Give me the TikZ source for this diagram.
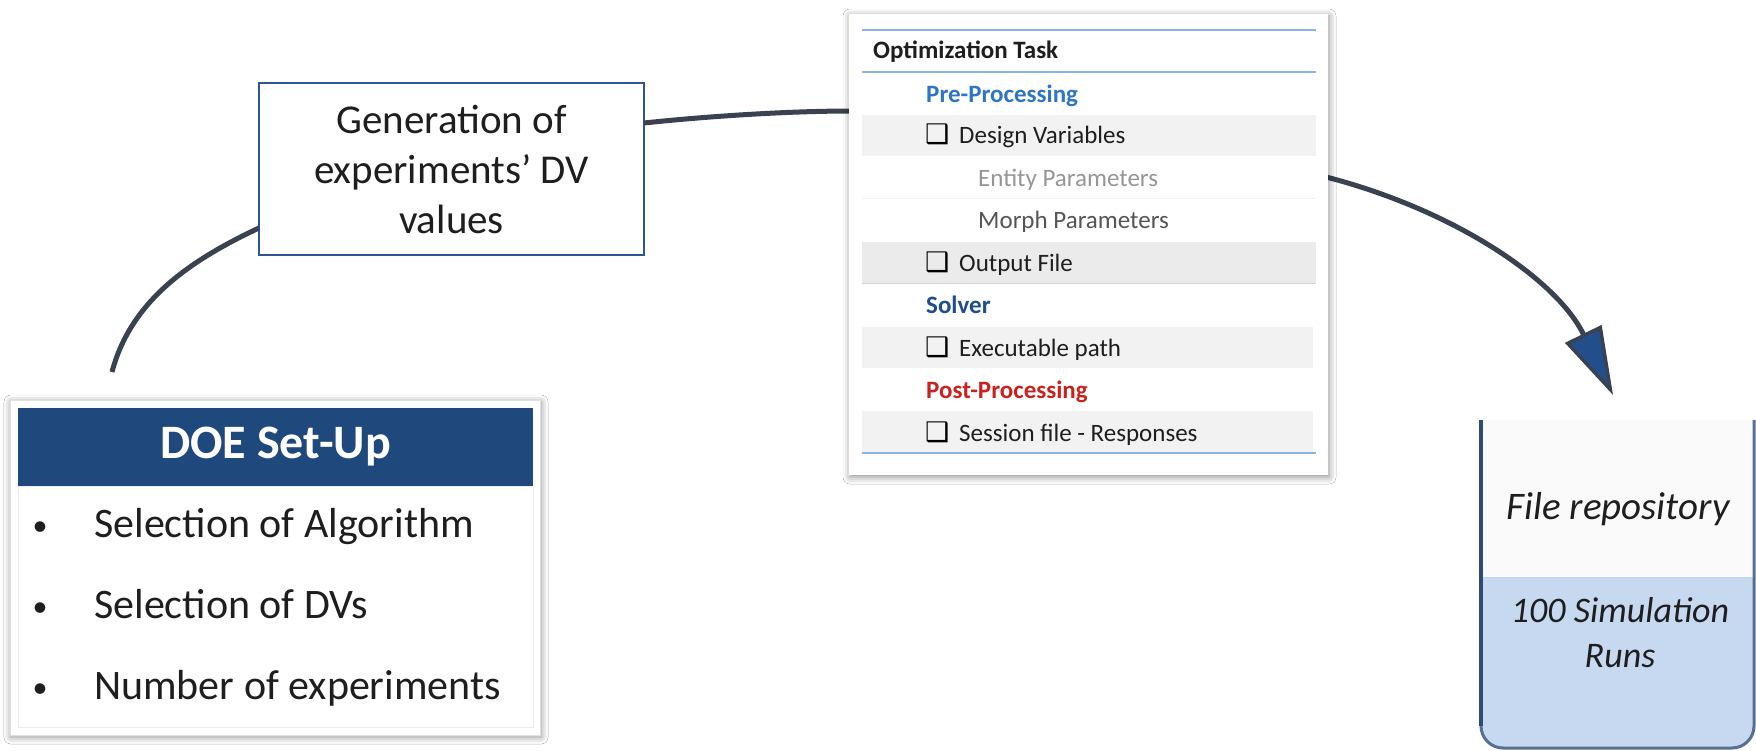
\documentclass[tikz,border=0pt]{standalone}
\usepackage{fontspec}
\setmainfont{Carlito}
\newfontfamily\symfont{DejaVu Sans}
\usetikzlibrary{arrows.meta,shadows.blur,calc}
\definecolor{linegray}{RGB}{58,66,82}
\definecolor{arrowblue}{RGB}{35,78,140}
\definecolor{doeblue}{RGB}{31,73,125}
\definecolor{genborder}{RGB}{47,85,151}
\definecolor{prebl}{RGB}{46,117,198}
\definecolor{solverbl}{RGB}{31,78,140}
\definecolor{postred}{RGB}{201,33,30}
\definecolor{rowgray}{RGB}{242,242,242}
\definecolor{rowgraydk}{RGB}{235,235,235}
\definecolor{ruleblue}{RGB}{141,179,226}
\definecolor{entgray}{RGB}{150,150,150}
\definecolor{morphgray}{RGB}{85,85,85}
\definecolor{txt}{RGB}{30,30,30}
\definecolor{repoblue}{RGB}{198,217,240}
\definecolor{repoborder}{RGB}{47,74,120}
\definecolor{repoupper}{RGB}{250,250,250}
\tikzset{
  conn/.style={draw=linegray, line width=5pt},
  panel/.style={fill=white, inner sep=0pt, blur shadow={shadow xshift=1pt, shadow yshift=-2pt, shadow blur radius=7pt, shadow opacity=45}},
  opttxt/.style={anchor=base west, inner sep=0pt, font=\fontsize{25}{30}\selectfont, text=txt},
  optbold/.style={opttxt, font=\fontsize{25}{30}\selectfont\bfseries},
  chk/.style={anchor=base west, inner sep=0pt, font=\symfont\fontsize{27}{30}\selectfont, text=black},
  doetxt/.style={anchor=base west, inner sep=0pt, font=\fontsize{42}{50}\selectfont, text=txt},
  bul/.style={anchor=base, inner sep=0pt, font=\fontsize{30}{36}\selectfont, text=txt},
  repotxt/.style={align=center, inner sep=0pt, text=txt},
}
\begin{document}
\begin{tikzpicture}[x=1pt,y=-1pt]
\useasboundingbox (0,0) rectangle (1756,751);
\fill[white] (0,0) rectangle (1756,751);

% ---- connectors (drawn first, panels overlay the ends)
\node[draw=genborder, line width=1.5pt, fill=white, minimum width=385pt, minimum height=172pt,
      align=center, inner sep=0pt, font=\fontsize{41}{50}\selectfont, text=txt] (gen) at (451.5,169)
      {Generation of\\experiments’ DV\\values};
\coordinate (c1s) at (112,372);
\coordinate (gw) at (259,228);
\coordinate (ge) at (644,123);
\coordinate (ow) at (852,111);
\coordinate (oe) at (1326,177);
\coordinate (tip) at (1613,395);
\draw[conn] (c1s) .. controls (131,300) and (191,260) .. (gw);
\draw[conn] (ge) .. controls (710,116) and (790,111) .. (ow);
\draw[conn, -{Triangle[length=68pt, width=40pt, fill=arrowblue, line width=3.5pt]}]
  (oe) .. controls (1451,209) and (1556,278) .. (tip);

% ---- Optimization task panel
\node[panel, minimum width=479pt, minimum height=461pt] (opt) at (1088.5,244.5) {};
\fill[rowgray] (862,115) rectangle (1316,156);
\fill[rowgraydk] (862,242) rectangle (1316,284);
\fill[rowgray] (862,327) rectangle (1313,368);
\fill[rowgray] (862,411) rectangle (1313,452);
\draw[gray!12, line width=1pt] (862,199) -- (1316,199);
\draw[gray!35, line width=1pt] (862,284) -- (1316,284);
\draw[ruleblue, line width=2pt] (862,30) -- (1316,30);
\draw[ruleblue, line width=2pt] (862,72) -- (1316,72);
\draw[ruleblue, line width=2pt] (862,453) -- (1316,453);

\node[optbold] (ot) at (873,59) {Optimization Task};
\node[optbold, text=prebl] (pre) at (926,103) {Pre-Processing};
\node[chk] (k1) at (925,144) {❑};
\node[opttxt] (dv) at (959,144) {Design Variables};
\node[opttxt, text=entgray] (ep) at (978,187) {Entity Parameters};
\node[opttxt, text=morphgray] (mp) at (978,229) {Morph Parameters};
\node[chk] (k2) at (925,272) {❑};
\node[opttxt] (of) at (959,272) {Output File};
\node[optbold, text=solverbl] (sol) at (926,313) {Solver};
\node[chk] (k3) at (925,356) {❑};
\node[opttxt] (ex) at (959,356) {Executable path};
\node[optbold, text=postred] (post) at (926,398) {Post-Processing};
\node[chk] (k4) at (925,441) {❑};
\node[opttxt] (ses) at (959,441) {Session file - Responses};

% ---- DOE panel
\node[panel, draw=gray!25, line width=1pt, minimum width=530pt, minimum height=335pt] (doe) at (275,567.5) {};
\node[fill=doeblue, minimum width=515pt, minimum height=78pt, inner sep=0pt,
      font=\fontsize{48}{56}\selectfont\bfseries, text=white] (doehead) at (275.5,447) {DOE Set-Up};
\draw[gray!15, fill=white] (18,486) rectangle (533,727);
\node[bul] (b1) at (40,535) {•};
\node[bul] (b2) at (40,616) {•};
\node[bul] (b3) at (40,697) {•};
\node[doetxt] (t1) at (94,537) {Selection of Algorithm};
\node[doetxt] (t2) at (94,618) {Selection of DVs};
\node[doetxt] (t3) at (94,699) {Number of experiments};

% ---- File repository
\begin{scope}
\clip (1470,420) rectangle (1756,751);
\fill[repoblue, rounded corners=22pt] (1481,480) rectangle (1754,748);
\fill[repoupper] (1481,380) rectangle (1754,577);
\node[draw=repoborder!80, line width=3pt, rounded corners=22pt, minimum width=273pt, minimum height=368pt, inner sep=0pt] (repo) at (1617.5,564) {};
\draw[repoborder, line width=3.5pt] (1481,420) -- (1481,726);
\end{scope}
\node[repotxt, font=\fontsize{39}{45}\itshape] (rt) at (1618,509) {File repository};
\node[repotxt, font=\fontsize{36}{45}\itshape] (rr) at (1620,633) {100 Simulation\\Runs};
\end{tikzpicture}
\end{document}
